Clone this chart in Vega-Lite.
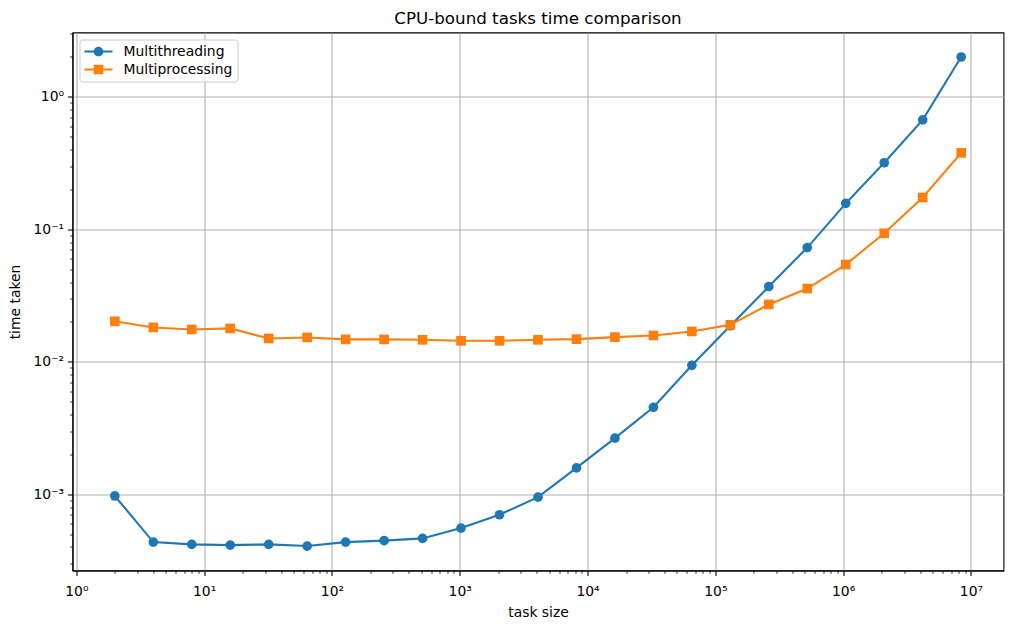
{
  "$schema": "https://vega.github.io/schema/vega-lite/v6.json",
  "autosize": {"type": "none"},
  "padding": {"left": 72.5, "top": 32.5, "right": 8, "bottom": 58},
  "width": 931,
  "height": 538,
  "background": "white",
  "title": {"text": "CPU-bound tasks time comparison", "font": "DejaVu Sans", "fontSize": 16.7, "fontWeight": "normal", "color": "black", "anchor": "middle", "frame": "group", "baseline": "bottom", "offset": 6, "dy": 24},
  "data": {"values": [
    {"size": 2, "time": 0.00097, "method": "Multithreading"},
    {"size": 4, "time": 0.000435, "method": "Multithreading"},
    {"size": 8, "time": 0.000418, "method": "Multithreading"},
    {"size": 16, "time": 0.000413, "method": "Multithreading"},
    {"size": 32, "time": 0.000418, "method": "Multithreading"},
    {"size": 64, "time": 0.000406, "method": "Multithreading"},
    {"size": 128, "time": 0.000435, "method": "Multithreading"},
    {"size": 256, "time": 0.000446, "method": "Multithreading"},
    {"size": 512, "time": 0.000464, "method": "Multithreading"},
    {"size": 1024, "time": 0.000555, "method": "Multithreading"},
    {"size": 2048, "time": 0.0007, "method": "Multithreading"},
    {"size": 4096, "time": 0.00095, "method": "Multithreading"},
    {"size": 8192, "time": 0.00158, "method": "Multithreading"},
    {"size": 16384, "time": 0.00265, "method": "Multithreading"},
    {"size": 32768, "time": 0.00453, "method": "Multithreading"},
    {"size": 65536, "time": 0.0094, "method": "Multithreading"},
    {"size": 131072, "time": 0.0187, "method": "Multithreading"},
    {"size": 262144, "time": 0.037, "method": "Multithreading"},
    {"size": 524288, "time": 0.0728, "method": "Multithreading"},
    {"size": 1048576, "time": 0.157, "method": "Multithreading"},
    {"size": 2097152, "time": 0.318, "method": "Multithreading"},
    {"size": 4194304, "time": 0.671, "method": "Multithreading"},
    {"size": 8388608, "time": 2.0, "method": "Multithreading"},
    {"size": 2, "time": 0.0202, "method": "Multiprocessing"},
    {"size": 4, "time": 0.01816, "method": "Multiprocessing"},
    {"size": 8, "time": 0.01754, "method": "Multiprocessing"},
    {"size": 16, "time": 0.01786, "method": "Multiprocessing"},
    {"size": 32, "time": 0.0150, "method": "Multiprocessing"},
    {"size": 64, "time": 0.01527, "method": "Multiprocessing"},
    {"size": 128, "time": 0.01475, "method": "Multiprocessing"},
    {"size": 256, "time": 0.01475, "method": "Multiprocessing"},
    {"size": 512, "time": 0.01465, "method": "Multiprocessing"},
    {"size": 1024, "time": 0.0144, "method": "Multiprocessing"},
    {"size": 2048, "time": 0.0144, "method": "Multiprocessing"},
    {"size": 4096, "time": 0.01465, "method": "Multiprocessing"},
    {"size": 8192, "time": 0.01483, "method": "Multiprocessing"},
    {"size": 16384, "time": 0.01535, "method": "Multiprocessing"},
    {"size": 32768, "time": 0.0158, "method": "Multiprocessing"},
    {"size": 65536, "time": 0.01695, "method": "Multiprocessing"},
    {"size": 131072, "time": 0.019, "method": "Multiprocessing"},
    {"size": 262144, "time": 0.0271, "method": "Multiprocessing"},
    {"size": 524288, "time": 0.0357, "method": "Multiprocessing"},
    {"size": 1048576, "time": 0.0542, "method": "Multiprocessing"},
    {"size": 2097152, "time": 0.0933, "method": "Multiprocessing"},
    {"size": 4194304, "time": 0.174, "method": "Multiprocessing"},
    {"size": 8388608, "time": 0.378, "method": "Multiprocessing"}
  ]},
  "encoding": {
    "x": {
      "field": "size", "type": "quantitative",
      "scale": {"type": "log", "domain": [0.933, 17985000], "nice": false, "zero": false},
      "axis": {
        "title": "task size",
        "values": [1,2,3,4,5,6,7,8,9,10,20,30,40,50,60,70,80,90,100,200,300,400,500,600,700,800,900,1000,2000,3000,4000,5000,6000,7000,8000,9000,10000,20000,30000,40000,50000,60000,70000,80000,90000,100000,200000,300000,400000,500000,600000,700000,800000,900000,1000000,2000000,3000000,4000000,5000000,6000000,7000000,8000000,9000000,10000000],
        "labelExpr": "abs(log(datum.value)/LN10 - round(log(datum.value)/LN10)) < 0.0001 ? '10' + ['⁰','¹','²','³','⁴','⁵','⁶','⁷'][round(log(datum.value)/LN10)] : ''",
        "tickSize": {"condition": {"test": "abs(log(datum.value)/LN10 - round(log(datum.value)/LN10)) < 0.0001", "value": 4.9}, "value": 2.8},
        "tickWidth": {"condition": {"test": "abs(log(datum.value)/LN10 - round(log(datum.value)/LN10)) < 0.0001", "value": 1.1}, "value": 0.8},
        "gridOpacity": {"condition": {"test": "abs(log(datum.value)/LN10 - round(log(datum.value)/LN10)) < 0.0001", "value": 1}, "value": 0},
        "labelPadding": 9,
        "titlePadding": 7
      }
    },
    "y": {
      "field": "time", "type": "quantitative",
      "scale": {"type": "log", "domain": [0.0002655, 3.062], "nice": false, "zero": false},
      "axis": {
        "title": "time taken",
        "values": [0.0003,0.0004,0.0005,0.0006,0.0007,0.0008,0.0009,0.001,0.002,0.003,0.004,0.005,0.006,0.007,0.008,0.009,0.01,0.02,0.03,0.04,0.05,0.06,0.07,0.08,0.09,0.1,0.2,0.3,0.4,0.5,0.6,0.7,0.8,0.9,1,2,3],
        "labelExpr": "abs(log(datum.value)/LN10 - round(log(datum.value)/LN10)) < 0.0001 ? '10' + (round(log(datum.value)/LN10) < 0 ? '⁻' : '') + ['⁰','¹','²','³','⁴'][abs(round(log(datum.value)/LN10))] : ''",
        "tickSize": {"condition": {"test": "abs(log(datum.value)/LN10 - round(log(datum.value)/LN10)) < 0.0001", "value": 4.9}, "value": 2.8},
        "tickWidth": {"condition": {"test": "abs(log(datum.value)/LN10 - round(log(datum.value)/LN10)) < 0.0001", "value": 1.1}, "value": 0.8},
        "gridOpacity": {"condition": {"test": "abs(log(datum.value)/LN10 - round(log(datum.value)/LN10)) < 0.0001", "value": 1}, "value": 0},
        "labelPadding": 4,
        "titlePadding": 11
      }
    },
    "color": {
      "field": "method", "type": "nominal",
      "scale": {"domain": ["Multithreading", "Multiprocessing"], "range": ["#1f77b4", "#ff7f0e"]},
      "legend": {
        "title": null,
        "orient": "top-left",
        "offset": 7,
        "padding": 5,
        "rowPadding": 4,
        "symbolSize": 196,
        "symbolOffset": 7,
        "labelOffset": 18,
        "labelFont": "DejaVu Sans",
        "labelFontSize": 13.9,
        "labelColor": "black",
        "fillColor": "rgba(255,255,255,0.8)",
        "strokeColor": "#cccccc",
        "cornerRadius": 3,
        "encode": {
          "symbols": {
            "update": {
              "shape": {"signal": "datum.value === 'Multithreading' ? 'M-2,-0.149H2V0.149H-2Z M-0.69,0A0.69,0.69 0 1,1 0.69,0A0.69,0.69 0 1,1 -0.69,0Z' : 'M-2,-0.149H2V0.149H-2Z M-0.69,-0.69H0.69V0.69H-0.69Z'"},
              "fill": {"signal": "datum.value === 'Multithreading' ? '#1f77b4' : '#ff7f0e'"},
              "stroke": {"value": "transparent"},
              "strokeWidth": {"value": 0},
              "opacity": {"value": 1},
              "fillOpacity": {"value": 1}
            }
          }
        }
      }
    }
  },
  "layer": [
    {"mark": {"type": "line", "strokeWidth": 2.08}},
    {
      "mark": {"type": "point", "filled": true, "opacity": 1},
      "encoding": {
        "shape": {"condition": {"test": "datum.method === 'Multiprocessing'", "value": "square"}, "value": "circle"},
        "size": {"value": 94}
      }
    }
  ],
  "config": {
    "font": "DejaVu Sans",
    "view": {"stroke": "black", "strokeWidth": 1.1},
    "axis": {
      "domainColor": "black",
      "domainWidth": 1.1,
      "tickColor": "black",
      "gridColor": "#b0b0b0",
      "gridWidth": 1.1,
      "labelFont": "DejaVu Sans",
      "labelFontSize": 13.9,
      "labelColor": "black",
      "labelOverlap": false,
      "labelBound": false,
      "labelFlush": false,
      "titleFont": "DejaVu Sans",
      "titleFontSize": 13.9,
      "titleFontWeight": "normal",
      "titleColor": "black"
    }
  }
}
